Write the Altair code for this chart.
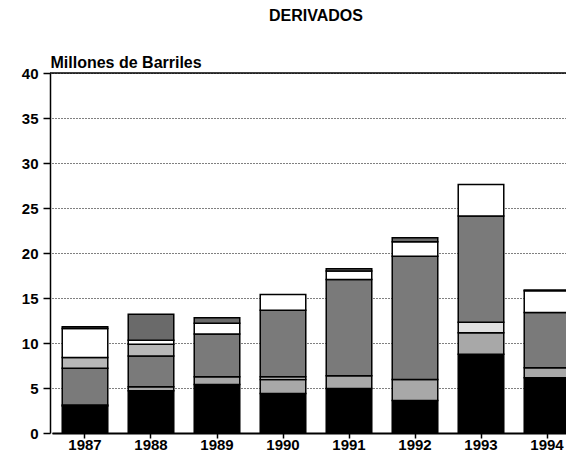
import altair as alt
import pandas as pd

years = ["1987", "1988", "1989", "1990", "1991", "1992", "1993", "1994"]
series = ["Negro", "Rayado", "Punteado", "Trama", "Cruces", "Blanco", "Moteado"]

negro    = [3.0, 4.7, 5.4, 4.4, 4.95, 3.6, 8.75, 6.15]
rayado   = [0.1, 0.45, 0.85, 1.55, 1.4, 2.35, 2.4, 1.1]
punteado = [0.0, 0.0, 0.0, 0.3, 0.0, 0.0, 1.15, 0.0]
trama    = [4.1, 3.4, 4.75, 7.4, 10.7, 13.7, 11.8, 6.15]
cruces   = [1.2, 1.3, 0.0, 0.0, 0.0, 0.0, 0.0, 0.0]
blanco   = [3.2, 0.45, 1.2, 1.75, 0.95, 1.6, 3.5, 2.4]
moteado  = [0.2, 2.9, 0.6, 0.0, 0.25, 0.45, 0.0, 0.1]

colors = ["#000000", "#a8a8a8", "#e0e0e0", "#7a7a7a", "#b8b8b8", "#ffffff", "#6a6a6a"]
y_ticks = [0, 5, 10, 15, 20, 25, 30, 35, 40]

rows = []
for si, (name, vals) in enumerate(zip(series, [negro, rayado, punteado, trama, cruces, blanco, moteado])):
    for yr, v in zip(years, vals):
        rows.append({"anio": yr, "serie": name, "orden": si, "valor": v})
df = pd.DataFrame(rows)

FONT = "Liberation Sans"

bars = alt.Chart(df).transform_filter("datum.valor > 0").mark_bar(
    clip=True, stroke="black", strokeWidth=1.5
).encode(
    x=alt.X(
        "anio:N",
        sort=years,
        scale=alt.Scale(domain=years, range=[2, 530], paddingInner=0.31, paddingOuter=0.155),
        axis=alt.Axis(
            title=None, labelAngle=0, grid=False,
            domainColor="black", domainWidth=2,
            tickColor="black", tickSize=5, tickWidth=1.5,
            labelFont=FONT, labelFontSize=15, labelFontWeight="bold",
            labelColor="black", labelPadding=11, labelBaseline="alphabetic",
        ),
    ),
    y=alt.Y(
        "valor:Q",
        stack="zero",
        scale=alt.Scale(domain=[0, 40], nice=False),
        axis=alt.Axis(
            values=y_ticks, grid=True, gridColor="black", gridDash=[1, 2], gridWidth=1,
            domainColor="black", domainWidth=1.5,
            tickColor="black", tickSize=7, tickWidth=1.5,
            labelFont=FONT, labelFontSize=15, labelFontWeight="bold",
            labelColor="black", labelPadding=5,
            title="Millones de Barriles", titleAngle=0, titleAlign="left",
            titleBaseline="alphabetic", titleX=0, titleY=-6,
            titleFont=FONT, titleFontSize=16, titleFontWeight="bold", titleColor="black",
        ),
    ),
    color=alt.Color("serie:N", scale=alt.Scale(domain=series, range=colors), legend=None),
    order=alt.Order("orden:Q", sort="ascending"),
)

top_line = alt.Chart(pd.DataFrame({"tope": [40]})).mark_rule(
    color="black", strokeWidth=1.5
).encode(y="tope:Q")

chart = alt.layer(bars, top_line).properties(
    width=516,
    height=360,
    autosize=alt.AutoSizeParams(type="none"),
    padding={"left": 42, "top": 65, "right": 0, "bottom": 19},
    title=alt.Title(
        "DERIVADOS", font=FONT, fontSize=16, fontWeight="bold", color="black",
        anchor="middle", offset=30, dx=8,
    ),
).configure_view(stroke=None)

chart.save("out.html", embed_options={"renderer": "svg", "actions": False})
